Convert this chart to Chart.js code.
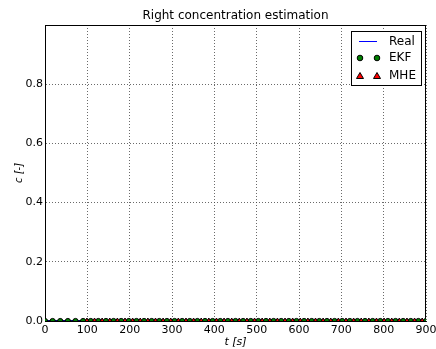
<!DOCTYPE html>
<html>
<head>
<meta charset="utf-8">
<script src="https://cdn.jsdelivr.net/npm/chart.js@4.4.0/dist/chart.umd.min.js"></script>
<style>
  body { margin: 0; background: #fff; }
  #wrap { width: 436px; height: 349px; }
</style>
</head>
<body>
<div id="wrap"><canvas id="concChart" width="436" height="349"></canvas></div>
<script>
// time axis and series
var realTime = [0, 100, 200, 300, 400, 500, 600, 700, 800, 900];
var realConc = [0, 0, 0, 0, 0, 0, 0, 0, 0, 0];

var ekfTime = [0, 18, 36, 54, 72, 90, 108, 126, 144, 162, 180, 198, 216, 234, 252, 270, 288,
  306, 324, 342, 360, 378, 396, 414, 432, 450, 468, 486, 504, 522, 540, 558, 576, 594,
  612, 630, 648, 666, 684, 702, 720, 738, 756, 774, 792, 810, 828, 846, 864, 882, 900];
var ekfConc = [0, 0, 0, 0, 0, 0, 0, 0, 0, 0, 0, 0, 0, 0, 0, 0, 0,
  0, 0, 0, 0, 0, 0, 0, 0, 0, 0, 0, 0, 0, 0, 0, 0, 0,
  0, 0, 0, 0, 0, 0, 0, 0, 0, 0, 0, 0, 0, 0, 0, 0, 0];

var mheTime = [99, 117, 135, 153, 171, 189, 207, 225, 243, 261, 279, 297, 315, 333, 351,
  369, 387, 405, 423, 441, 459, 477, 495, 513, 531, 549, 567, 585, 603, 621, 639, 657,
  675, 693, 711, 729, 747, 765, 783, 801, 819, 837, 855, 873, 891];
var mheConc = [0, 0, 0, 0, 0, 0, 0, 0, 0, 0, 0, 0, 0, 0, 0,
  0, 0, 0, 0, 0, 0, 0, 0, 0, 0, 0, 0, 0, 0, 0, 0, 0,
  0, 0, 0, 0, 0, 0, 0, 0, 0, 0, 0, 0, 0];

var xTicks = [0, 100, 200, 300, 400, 500, 600, 700, 800, 900];
var yTicks = [0, 0.2, 0.4, 0.6, 0.8, 1.0];
var chartTitle = 'Right concentration estimation';

function pairs(xs, ys) {
  return xs.map(function (x, i) { return { x: x, y: ys[i] }; });
}

var fontFam = "'DejaVu Sans', sans-serif";

// legend box drawn inside the plot, top right
var boxLegend = {
  id: 'boxLegend',
  afterDraw: function (chart) {
    var ctx = chart.ctx;
    var area = chart.chartArea;
    var w = 70, h = 54;
    var x0 = area.right - w - 5, y0 = area.top + 6;
    ctx.save();
    ctx.fillStyle = '#fff';
    ctx.strokeStyle = '#000';
    ctx.lineWidth = 1;
    ctx.fillRect(x0, y0, w, h);
    ctx.strokeRect(x0 + 0.5, y0 + 0.5, w, h);
    ctx.font = '12px ' + fontFam;
    ctx.fillStyle = '#000';
    ctx.textBaseline = 'middle';
    var rows = [y0 + 10.5, y0 + 27, y0 + 45];
    // Real
    ctx.strokeStyle = '#0000ff';
    ctx.beginPath();
    ctx.moveTo(x0 + 8, rows[0]);
    ctx.lineTo(x0 + 26, rows[0]);
    ctx.stroke();
    ctx.fillText('Real', x0 + 38, rows[0]);
    // EKF
    [x0 + 9, x0 + 26].forEach(function (mx) {
      ctx.beginPath();
      ctx.arc(mx, rows[1], 2.8, 0, Math.PI * 2);
      ctx.fillStyle = '#007f00';
      ctx.fill();
      ctx.strokeStyle = '#000';
      ctx.stroke();
    });
    ctx.fillStyle = '#000';
    ctx.fillText('EKF', x0 + 38, rows[1]);
    // MHE
    [x0 + 9, x0 + 26].forEach(function (mx) {
      ctx.beginPath();
      ctx.moveTo(mx, rows[2] - 3.5);
      ctx.lineTo(mx + 3.5, rows[2] + 2.5);
      ctx.lineTo(mx - 3.5, rows[2] + 2.5);
      ctx.closePath();
      ctx.fillStyle = '#ff0000';
      ctx.fill();
      ctx.strokeStyle = '#000';
      ctx.stroke();
    });
    ctx.fillStyle = '#000';
    ctx.fillText('MHE', x0 + 38, rows[2]);

    // title centred over the plot area, like matplotlib does
    ctx.font = '12px ' + fontFam;
    ctx.textAlign = 'center';
    ctx.textBaseline = 'alphabetic';
    ctx.fillText(chartTitle, (area.left + area.right) / 2, area.top - 6);
    ctx.restore();
  }
};

var ctx = document.getElementById('concChart').getContext('2d');
var chart = new Chart(ctx, {
  type: 'line',
  data: {
    datasets: [{
      label: 'Real',
      data: pairs(realTime, realConc),
      borderColor: '#0000ff',
      borderWidth: 1,
      pointRadius: 0,
      order: 3
    }, {
      label: 'EKF',
      data: pairs(ekfTime, ekfConc),
      showLine: false,
      pointStyle: 'circle',
      pointRadius: 2.6,
      pointBackgroundColor: '#007f00',
      pointBorderColor: '#000',
      pointBorderWidth: 1,
      order: 2
    }, {
      label: 'MHE',
      data: pairs(mheTime, mheConc),
      showLine: false,
      pointStyle: 'triangle',
      pointRadius: 3,
      pointBackgroundColor: '#ff0000',
      pointBorderColor: '#000',
      pointBorderWidth: 1,
      order: 1
    }]
  },
  options: {
    responsive: false,
    animation: false,
    layout: { padding: { right: 10, top: 25 } },
    plugins: {
      legend: { display: false },
      tooltip: { enabled: false },
      title: { display: false }
    },
    scales: {
      x: {
        type: 'linear',
        min: 0,
        max: 900,
        afterBuildTicks: function (axis) {
          axis.ticks = xTicks.map(function (v) { return { value: v }; });
        },
        afterFit: function (axis) {
          axis.height = 28;
          axis.paddingLeft = 0;
          axis.paddingRight = 0;
        },
        ticks: {
          color: '#000',
          font: { family: fontFam, size: 11 },
          padding: 3,
          maxRotation: 0
        },
        grid: {
          color: '#444',
          lineWidth: 0.8,
          tickLength: 0,
          drawTicks: false
        },
        border: { display: true, color: '#000', width: 1, dash: [1, 2] },
        title: {
          display: true,
          text: 't [s]',
          color: '#000',
          font: { family: fontFam, size: 11, style: 'italic' },
          padding: 0
        }
      },
      y: {
        min: 0,
        max: 1,
        afterBuildTicks: function (axis) {
          axis.ticks = yTicks.map(function (v) { return { value: v }; });
        },
        afterFit: function (axis) {
          axis.width = 45;
          axis.paddingTop = 0;
        },
        ticks: {
          color: '#000',
          font: { family: fontFam, size: 11 },
          padding: 2,
          callback: function (v) { return v >= 1 ? '' : v.toFixed(1); }
        },
        grid: {
          color: '#444',
          lineWidth: 0.8,
          tickLength: 0,
          drawTicks: false
        },
        border: { display: true, color: '#000', width: 1, dash: [1, 2] },
        title: {
          display: true,
          text: 'c [-]',
          color: '#000',
          font: { family: fontFam, size: 10, style: 'italic' },
          padding: { top: 13, bottom: 0 }
        }
      }
    }
  },
  plugins: [boxLegend, {
    id: 'plotFrame',
    beforeDatasetsDraw: function (c) {
      var a = c.chartArea, g = c.ctx;
      g.save();
      g.strokeStyle = '#000';
      g.lineWidth = 1;
      g.strokeRect(a.left + 0.5, a.top + 0.5, a.right - a.left - 1, a.bottom - a.top - 1);
      g.restore();
    }
  }]
});
</script>
</body>
</html>
